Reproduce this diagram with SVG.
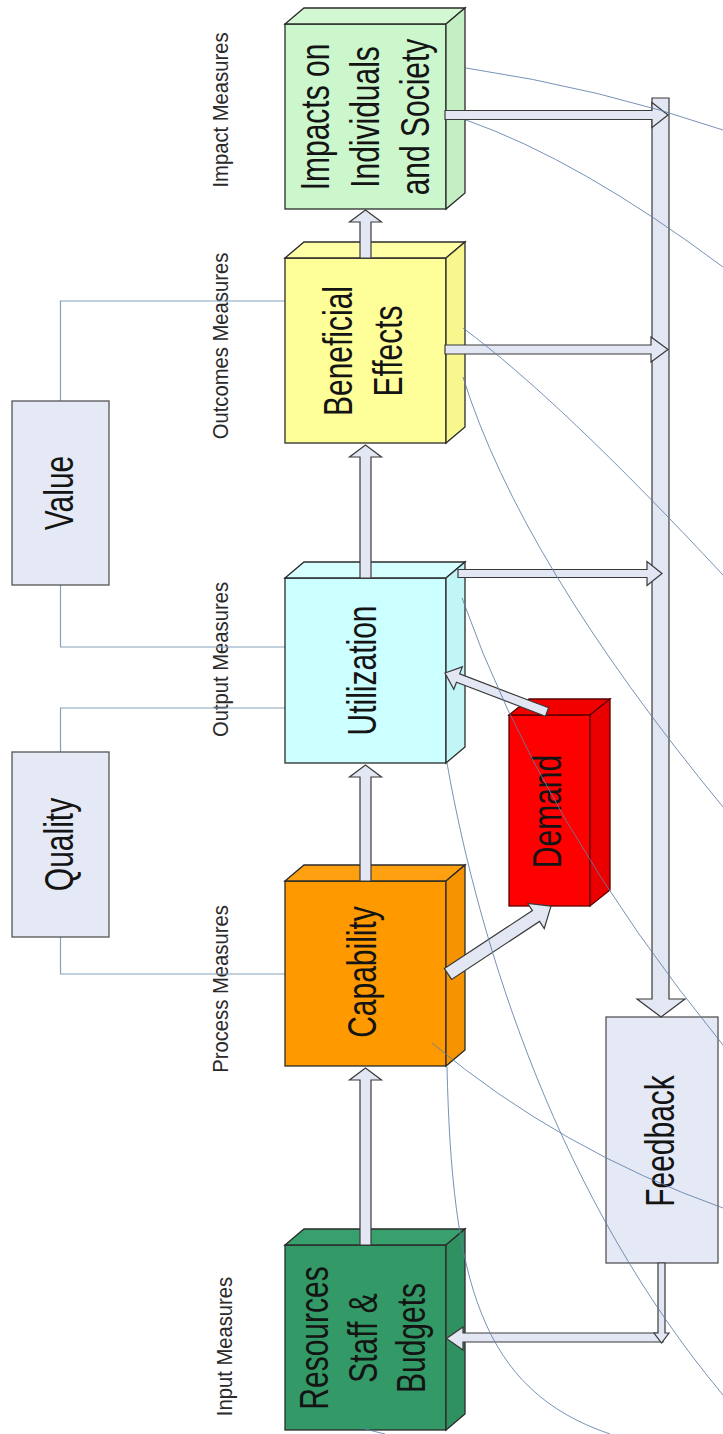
<svg xmlns="http://www.w3.org/2000/svg" width="723" height="1434" viewBox="0 0 723 1434">
<style>
.bx{stroke:#2b2b2b;stroke-width:1.3;stroke-linejoin:miter}
.t{font-family:"Liberation Sans",Arial,sans-serif;font-size:40px;fill:#141414;text-anchor:middle}
.m{font-family:"Liberation Sans",Arial,sans-serif;font-size:22px;fill:#2a2a2a;text-anchor:middle}
.ar{fill:#e2e7f3;stroke:#3a3a3a;stroke-width:1.2;stroke-linejoin:miter}
.ln{fill:none;stroke:#86a0bc;stroke-width:1.2}
.cv{fill:none;stroke:#5f7fa8;stroke-width:1;opacity:.85}
.fb{fill:#e4e9f5;stroke:#555;stroke-width:1.3}
</style>
<rect width="723" height="1434" fill="#fff"/>

<g id="labels">
<text class="m" transform="translate(228,110) rotate(-90) scale(0.92,1)">Impact Measures</text>
<text class="m" transform="translate(228,346) rotate(-90) scale(0.92,1)">Outcomes Measures</text>
<text class="m" transform="translate(228,659.5) rotate(-90) scale(0.92,1)">Output Measures</text>
<text class="m" transform="translate(228,989) rotate(-90) scale(0.92,1)">Process Measures</text>
<text class="m" transform="translate(232,1346.5) rotate(-90) scale(0.92,1)">Input Measures</text>
</g>

<g id="connectors">
<path class="ln" d="M60.5,752 V708 H285"/>
<path class="ln" d="M60.5,937 V974 H285"/>
<path class="ln" d="M60.5,401 V301 H285"/>
<path class="ln" d="M60.5,585 V647 H285"/>
</g>

<g id="value">
<rect class="fb" x="12" y="401" width="97" height="184"/>
<text class="t" transform="translate(73,493) rotate(-90) scale(0.75,1)">Value</text>
</g>
<g id="quality">
<rect class="fb" x="12" y="752" width="97" height="185"/>
<text class="t" transform="translate(73,844.5) rotate(-90) scale(0.75,1)">Quality</text>
</g>

<g id="impacts">
<rect class="bx" x="285" y="24" width="161" height="185" fill="#ccf6cc"/>
<polygon class="bx" points="285,24 304,8 465,8 446,24" fill="#d4f8d4"/>
<polygon class="bx" points="446,24 465,8 465,193 446,209" fill="#c4efc4"/>
<text class="t" transform="translate(329,117) rotate(-90) scale(0.75,1)">Impacts on</text>
<text class="t" transform="translate(379,117) rotate(-90) scale(0.75,1)">Individuals</text>
<text class="t" transform="translate(429,117) rotate(-90) scale(0.75,1)">and Society</text>
</g>

<g id="beneficial">
<rect class="bx" x="285" y="258" width="161" height="185" fill="#ffff99"/>
<polygon class="bx" points="285,258 304,242 465,242 446,258" fill="#ffffa6"/>
<polygon class="bx" points="446,258 465,242 465,427 446,443" fill="#f7f78e"/>
<text class="t" transform="translate(352,351) rotate(-90) scale(0.75,1)">Beneficial</text>
<text class="t" transform="translate(402,351) rotate(-90) scale(0.75,1)">Effects</text>
</g>

<g id="utilization">
<rect class="bx" x="285" y="578" width="161" height="185" fill="#ccffff"/>
<polygon class="bx" points="285,578 304,562 465,562 446,578" fill="#d6ffff"/>
<polygon class="bx" points="446,578 465,562 465,747 446,763" fill="#c2f5f5"/>
<text class="t" transform="translate(376,670.5) rotate(-90) scale(0.75,1)">Utilization</text>
</g>

<g id="capability">
<rect class="bx" x="285" y="881" width="161" height="185" fill="#ff9900"/>
<polygon class="bx" points="285,881 304,865 465,865 446,881" fill="#ffa010"/>
<polygon class="bx" points="446,881 465,865 465,1050 446,1066" fill="#f59300"/>
<text class="t" transform="translate(376,972) rotate(-90) scale(0.75,1)">Capability</text>
</g>

<g id="resources">
<rect class="bx" x="285" y="1245" width="161" height="185" fill="#339966"/>
<polygon class="bx" points="285,1245 304,1229 465,1229 446,1245" fill="#38a06c"/>
<polygon class="bx" points="446,1245 465,1229 465,1414 446,1430" fill="#2f915f"/>
<text class="t" transform="translate(328,1338) rotate(-90) scale(0.75,1)">Resources</text>
<text class="t" transform="translate(377,1338) rotate(-90) scale(0.75,1)">Staff &amp;</text>
<text class="t" transform="translate(425,1338) rotate(-90) scale(0.75,1)">Budgets</text>
</g>

<g id="demand">
<rect x="509" y="715" width="81" height="191" fill="#ff0000" stroke="#5a0000" stroke-width="1.3"/>
<polygon points="509,715 529,699 610,699 590,715" fill="#f20000" stroke="#5a0000" stroke-width="1.3"/>
<polygon points="590,715 610,699 610,890 590,906" fill="#ea0000" stroke="#5a0000" stroke-width="1.3"/>
<text class="t" transform="translate(561,811.5) rotate(-90) scale(0.75,1)">Demand</text>
</g>

<g id="feedback">
<rect class="fb" x="606" y="1017" width="112" height="246"/>
<text class="t" transform="translate(674,1141) rotate(-90) scale(0.75,1)">Feedback</text>
</g>

<g id="arrows">
<path class="ar" d="M360,1245 V1080 H349.5 L365.5,1068 L381.5,1080 H371 V1245 Z"/>
<path class="ar" d="M360,881 V777 H349.5 L365.5,765 L381.5,777 H371 V881 Z"/>
<path class="ar" d="M360,578 V457 H349.5 L365.5,445 L381.5,457 H371 V578 Z"/>
<path class="ar" d="M360,258 V222 H349.5 L365.5,210 L381.5,222 H371 V258 Z"/>
<path class="ar" d="M652,98 H669 V999 H685 L661,1017 L637,999 H652 Z"/>
<path class="ar" d="M445,110.5 H652 V102.5 L668,115 L652,127.5 V119.5 H445 Z"/>
<path class="ar" d="M445,345 H651 V337 L668,349.5 L651,362 V354 H445 Z"/>
<path class="ar" d="M458,569.5 H647 V561.5 L662,573.5 L647,585.5 V577.5 H458 Z"/>
<path class="ar" d="M663,1333 H463 V1327 L446.5,1338.5 L463,1350 V1342 H663 Z"/>
<path class="ar" d="M658,1263 V1333 H654 L661.5,1343 L669,1333 H665 V1263 Z"/>
<polygon class="ar" transform="translate(448,974) rotate(-33.4)" points="0,-6.5 105.4,-6.5 105.4,-15 123.4,0 105.4,15 105.4,6.5 0,6.5"/>
<polygon class="ar" transform="translate(547,712) rotate(-159.1)" points="0,-4.5 95.2,-4.5 95.2,-12 109.2,0 95.2,12 95.2,4.5 0,4.5"/>
</g>

<g id="curves">
<path class="cv" d="M466,68 Q600,88 723,130"/>
<path class="cv" d="M466,120 Q580,160 723,267"/>
<path class="cv" d="M463,328 Q560,400 723,575"/>
<path class="cv" d="M463,377 Q520,560 723,807"/>
<path class="cv" d="M462,598 Q540,820 723,1045"/>
<path class="cv" d="M447,763 C480,950 560,1200 723,1395"/>
<path class="cv" d="M447,1067 C452,1280 480,1390 610,1434"/>
<path class="cv" d="M432,1043 Q560,1150 723,1208"/>
<path class="cv" d="M362,1428 Q372,1431 385,1434"/>
</g>
</svg>
